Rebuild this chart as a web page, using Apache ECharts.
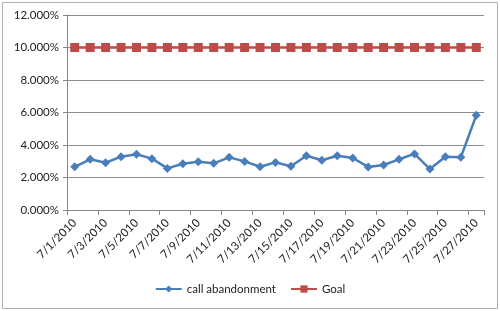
<!DOCTYPE html>
<html><head><meta charset="utf-8">
<script src="https://cdn.jsdelivr.net/npm/echarts@6/dist/echarts.min.js"></script>
<style>html,body{margin:0;padding:0;background:#fff}#c{width:500px;height:311px}</style>
</head><body><div id="c"></div>
<script>
const categories = ['7/1/2010','7/2/2010','7/3/2010','7/4/2010','7/5/2010','7/6/2010','7/7/2010','7/8/2010','7/9/2010','7/10/2010','7/11/2010','7/12/2010','7/13/2010','7/14/2010','7/15/2010','7/16/2010','7/17/2010','7/18/2010','7/19/2010','7/20/2010','7/21/2010','7/22/2010','7/23/2010','7/24/2010','7/25/2010','7/26/2010','7/27/2010'];
const callAbandonment = [2.66,3.12,2.91,3.28,3.43,3.16,2.56,2.85,2.97,2.87,3.24,2.99,2.66,2.93,2.69,3.34,3.06,3.34,3.20,2.65,2.77,3.12,3.45,2.52,3.28,3.24,5.83];
const goal = [10,10,10,10,10,10,10,10,10,10,10,10,10,10,10,10,10,10,10,10,10,10,10,10,10,10,10];
const seriesNames = ['call abandonment','Goal'];

const chart = echarts.init(document.getElementById('c'), null, {renderer:'canvas'});
const font = 'Lato, "Open Sans", sans-serif';
chart.setOption({
  backgroundColor:'#fff',
  animation:false,
  textStyle:{fontFamily:font},
  graphic:[{type:'rect',shape:{x:2.5,y:2.5,width:495,height:306},style:{fill:'none',stroke:'#b0b0b0',lineWidth:1},silent:true}],
  grid:{left:67,right:16,top:15,bottom:101,containLabel:false},
  legend:{bottom:11,left:'center',itemWidth:26,itemHeight:9,itemGap:14,
    textStyle:{fontFamily:font,fontSize:11.5,color:'#222'},data:seriesNames},
  xAxis:{type:'category',data:categories,boundaryGap:true,
    axisLine:{lineStyle:{color:'#868686',width:1}},
    axisTick:{show:true,interval:1,length:5,lineStyle:{color:'#868686'}},
    axisLabel:{interval:1,rotate:45,margin:11,fontSize:11.5,color:'#222',fontFamily:font}},
  yAxis:{type:'value',min:0,max:12,interval:2,
    axisLine:{show:true,lineStyle:{color:'#868686'}},
    axisTick:{show:true,length:4,lineStyle:{color:'#868686'}},
    splitLine:{lineStyle:{color:'#8c8c8c',width:1}},
    axisLabel:{fontSize:11.5,color:'#222',margin:8,fontFamily:font,formatter:v=>v.toFixed(3)+'%'}},
  series:[
    {name:seriesNames[0],type:'line',data:callAbandonment,symbol:'diamond',symbolSize:9,
     lineStyle:{color:'#4a7ebb',width:2.5},itemStyle:{color:'#4a7ebb'}},
    {name:seriesNames[1],type:'line',data:goal,symbol:'rect',symbolSize:9,
     lineStyle:{color:'#be4b48',width:2.5},itemStyle:{color:'#be4b48'}}
  ]
});
</script></body></html>
